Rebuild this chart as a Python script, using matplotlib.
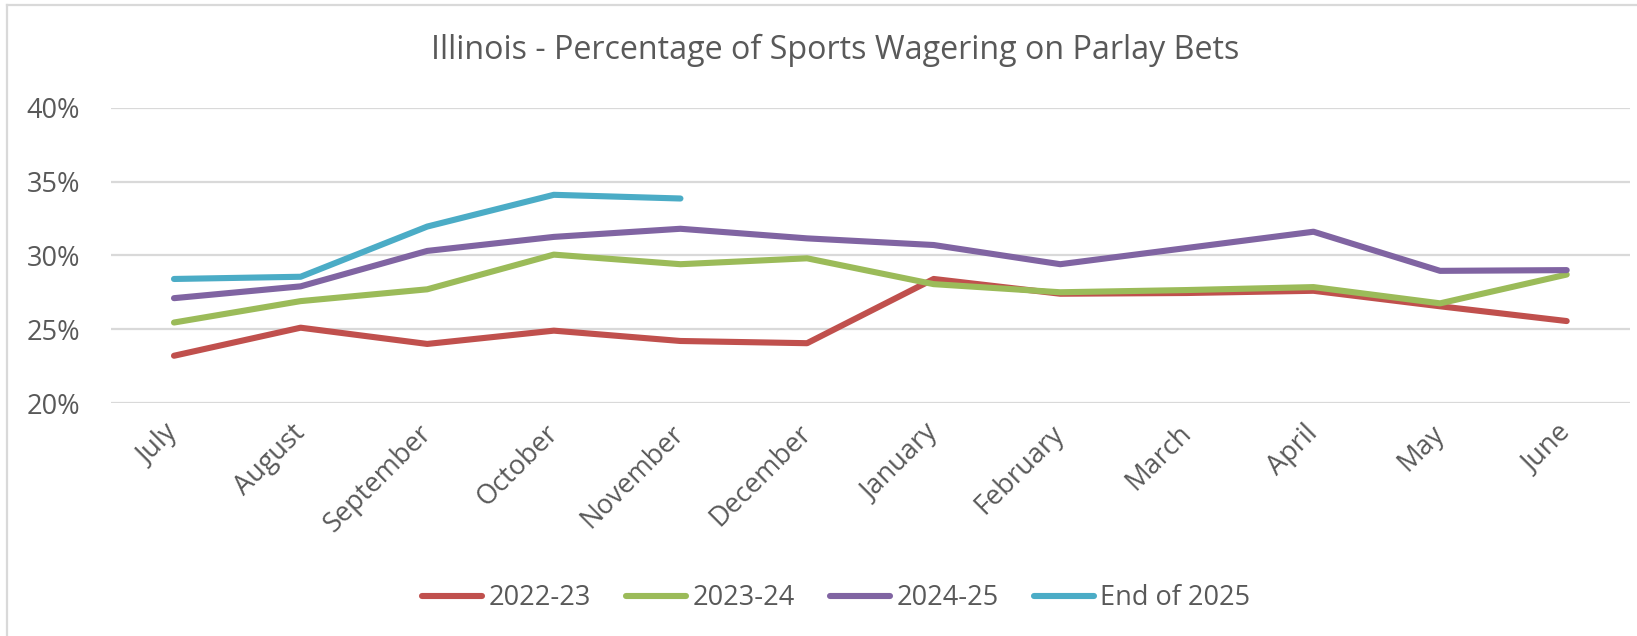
import matplotlib
matplotlib.use("Agg")
import matplotlib.pyplot as plt
from matplotlib.lines import Line2D

months = ["July", "August", "September", "October", "November", "December",
          "January", "February", "March", "April", "May", "June"]
s2022_23 = [23.2, 25.1, 24.0, 24.9, 24.2, 24.05, 28.4, 27.4, 27.45, 27.6, 26.55, 25.55]
s2023_24 = [25.45, 26.9, 27.7, 30.05, 29.4, 29.8, 28.05, 27.5, 27.65, 27.85, 26.75, 28.7]
s2024_25 = [27.1, 27.9, 30.3, 31.25, 31.8, 31.15, 30.7, 29.4, 30.5, 31.6, 28.95, 29.0]
s_end2025 = [28.4, 28.55, 31.95, 34.1, 33.85]
series_names = ["2022-23", "2023-24", "2024-25", "End of 2025"]
yticks = [20, 25, 30, 35, 40]
title = "Illinois - Percentage of Sports Wagering on Parlay Bets"

colors = ["#C0504D", "#9BBB59", "#8064A2", "#4BACC6"]
txt = "#595959"
font = "Open Sans"
plt.rcParams["font.family"] = [font, "DejaVu Sans"]

W, H = 1637, 636
fig = plt.figure(figsize=(W / 100, H / 100), dpi=100)
ax = fig.add_axes([110.7 / W, 1 - 403 / H, (1630 - 110.7) / W, (403 - 107.7) / H])

x = list(range(len(months)))
data = [s2022_23, s2023_24, s2024_25, s_end2025]
for vals, c, name in zip(data, colors, series_names):
    ax.plot(x[:len(vals)], vals, color=c, lw=4.4, solid_capstyle="round",
            solid_joinstyle="round", label=name, zorder=3)

ax.set_xlim(-0.5, len(months) - 0.5)
ax.set_ylim(20, 40)
ax.set_yticks(yticks)
ax.set_yticklabels([f"{v}%" for v in yticks])
ax.set_xticks(x)
ax.set_xticklabels(months, rotation=45, ha="right", rotation_mode="anchor", va="center")
ax.tick_params(axis="x", length=0, pad=19, labelsize=19.5, labelcolor=txt)
ax.tick_params(axis="y", length=0, pad=22, labelsize=19.5, labelcolor=txt)
for sp in ax.spines.values():
    sp.set_visible(False)
ax.grid(axis="y", color="#D9D9D9", lw=1.6, zorder=0)
ax.set_axisbelow(True)

fig.text(835 / W, 1 - 50 / H, title, ha="center", va="center", fontsize=23.2, color=txt)

handles = [Line2D([], [], color=c, lw=4.4, solid_capstyle="round") for c in colors]
fig.legend(handles, series_names, loc="center", bbox_to_anchor=(836.5 / W, 1 - 598 / H),
           ncol=4, frameon=False, fontsize=19.5, handlelength=2.2, handletextpad=0.25,
           columnspacing=1.3, labelcolor=txt)

# chart-area border (left and top edges visible)
fig.add_artist(Line2D([7 / W, 7 / W], [0, 1 - 5 / H], color="#D9D9D9", lw=1.6))
fig.add_artist(Line2D([7 / W, 1], [1 - 5 / H, 1 - 5 / H], color="#D9D9D9", lw=1.6))

fig.savefig("out.png", dpi=100, facecolor="white")
